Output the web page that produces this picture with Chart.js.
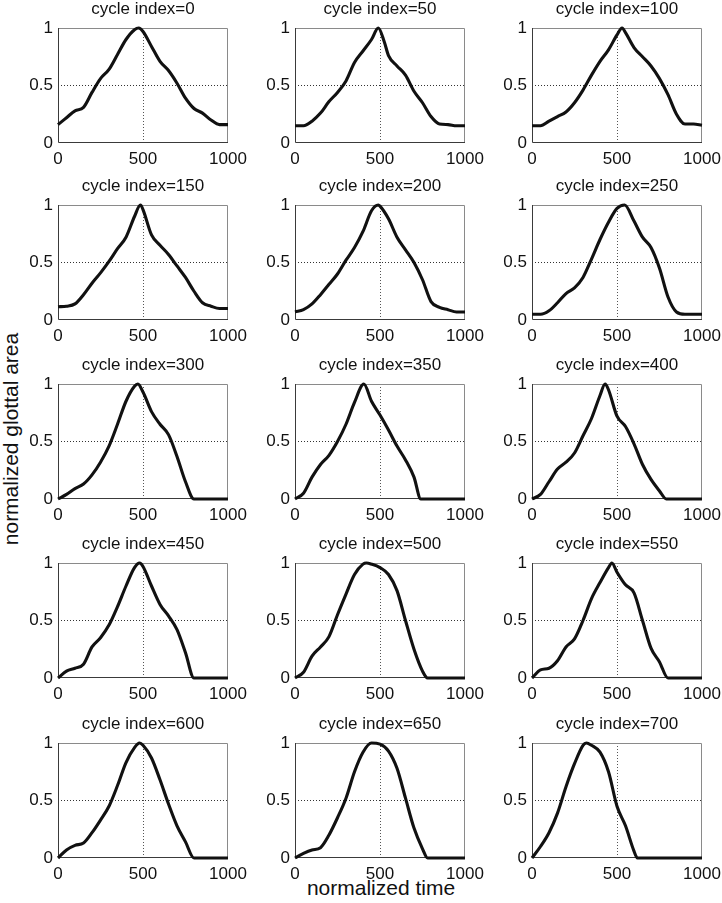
<!DOCTYPE html>
<html>
<head>
<meta charset="utf-8">
<script src="https://cdn.jsdelivr.net/npm/chart.js@4.4.1/dist/chart.umd.min.js"></script>
<style>
  body { margin: 0; background: #fff; }
  #fig { position: relative; width: 722px; height: 903px; overflow: hidden;
         font-family: "Liberation Sans", Arial, Helvetica, sans-serif; }
  #fig canvas { position: absolute; }
  .lab { position: absolute; font-size: 21px; color: #111; white-space: nowrap;
         transform: translate(-50%, -50%); }
  #ylab { left: 11px; top: 439px; transform: translate(-50%, -50%) rotate(-90deg); }
  #xlab { left: 381px; top: 888px; }
</style>
</head>
<body>
<div id="fig">
  <div class="lab" id="ylab">normalized glottal area</div>
  <div class="lab" id="xlab">normalized time</div>
</div>
<script>
// panel titles and axis ticks
const cycleIndex = [0, 50, 100, 150, 200, 250, 300, 350, 400, 450, 500, 550, 600, 650, 700];
const timeTicks = [0, 500, 1000];
const areaTicks = [0, 0.5, 1];

// [normalized time, normalized glottal area]
const cycle0 = [[0,0.16],[50,0.22],[100,0.28],[150,0.31],[200,0.44],[250,0.56],[300,0.64],[350,0.77],[400,0.9],[450,0.985],[475,1],[500,0.97],[550,0.84],[600,0.71],[650,0.63],[700,0.52],[750,0.39],[800,0.3],[850,0.26],[900,0.2],[950,0.16],[1000,0.16]];
const cycle50 = [[0,0.15],[50,0.15],[100,0.19],[150,0.26],[200,0.36],[250,0.44],[300,0.54],[350,0.7],[400,0.8],[450,0.9],[490,1],[525,0.88],[550,0.76],[600,0.67],[650,0.59],[700,0.45],[750,0.35],[800,0.23],[850,0.165],[900,0.16],[950,0.15],[1000,0.15]];
const cycle100 = [[0,0.15],[50,0.15],[100,0.19],[150,0.23],[200,0.27],[250,0.35],[300,0.46],[350,0.59],[400,0.71],[450,0.81],[500,0.94],[530,1],[550,0.96],[600,0.83],[650,0.75],[700,0.67],[750,0.56],[800,0.42],[850,0.25],[900,0.165],[950,0.165],[1000,0.155]];
const cycle150 = [[0,0.115],[50,0.12],[100,0.14],[150,0.22],[200,0.32],[250,0.41],[300,0.51],[350,0.62],[400,0.72],[450,0.9],[485,1],[500,0.96],[550,0.74],[600,0.65],[650,0.57],[700,0.47],[750,0.37],[800,0.25],[850,0.15],[900,0.12],[950,0.1],[1000,0.1]];
const cycle200 = [[0,0.07],[50,0.09],[100,0.14],[150,0.22],[200,0.31],[250,0.4],[300,0.52],[350,0.63],[400,0.77],[450,0.95],[490,1],[500,0.99],[550,0.88],[600,0.72],[650,0.61],[700,0.5],[750,0.35],[800,0.16],[850,0.11],[900,0.09],[950,0.07],[1000,0.07]];
const cycle250 = [[0,0.05],[50,0.05],[100,0.08],[150,0.15],[200,0.23],[250,0.28],[300,0.37],[350,0.53],[400,0.7],[450,0.85],[500,0.97],[545,1],[600,0.86],[650,0.72],[700,0.63],[750,0.45],[800,0.2],[850,0.07],[900,0.05],[950,0.05],[1000,0.05]];
const cycle300 = [[0,0],[50,0.04],[100,0.09],[150,0.13],[200,0.21],[250,0.32],[300,0.46],[350,0.65],[400,0.85],[450,0.98],[470,1],[500,0.93],[550,0.76],[600,0.65],[650,0.56],[700,0.37],[750,0.15],[800,0],[850,0],[900,0],[950,0],[1000,0]];
const cycle350 = [[0,0],[50,0.05],[100,0.19],[150,0.3],[200,0.38],[250,0.5],[300,0.65],[350,0.84],[405,1],[450,0.85],[500,0.73],[550,0.6],[600,0.46],[650,0.34],[700,0.19],[740,0],[800,0],[850,0],[900,0],[950,0],[1000,0]];
const cycle400 = [[0,0],[50,0.04],[100,0.15],[150,0.26],[200,0.32],[250,0.4],[300,0.55],[350,0.7],[400,0.9],[430,1],[450,0.95],[500,0.72],[550,0.63],[600,0.48],[650,0.3],[700,0.17],[750,0.07],[790,0],[850,0],[900,0],[950,0],[1000,0]];
const cycle450 = [[0,0],[50,0.06],[100,0.085],[150,0.12],[200,0.27],[250,0.35],[300,0.46],[350,0.62],[400,0.8],[450,0.96],[480,1],[500,0.97],[550,0.8],[600,0.64],[650,0.54],[700,0.42],[750,0.22],[800,0],[850,0],[900,0],[950,0],[1000,0]];
const cycle500 = [[0,0],[50,0.05],[100,0.19],[150,0.27],[200,0.36],[250,0.55],[300,0.73],[350,0.9],[400,0.99],[420,1],[450,0.99],[500,0.96],[550,0.9],[600,0.76],[650,0.5],[700,0.25],[750,0.06],[780,0],[850,0],[900,0],[950,0],[1000,0]];
const cycle550 = [[0,0],[50,0.07],[100,0.085],[150,0.15],[200,0.27],[250,0.34],[300,0.5],[350,0.69],[400,0.83],[450,0.96],[470,1],[500,0.92],[550,0.81],[600,0.74],[650,0.5],[700,0.26],[750,0.14],[800,0],[850,0],[900,0],[950,0],[1000,0]];
const cycle600 = [[0,0],[50,0.07],[100,0.11],[150,0.13],[200,0.22],[250,0.33],[300,0.45],[350,0.63],[400,0.83],[450,0.96],[480,1],[500,0.98],[550,0.87],[600,0.68],[650,0.47],[700,0.28],[750,0.14],[800,0],[850,0],[900,0],[950,0],[1000,0]];
const cycle650 = [[0,0],[50,0.04],[100,0.07],[150,0.09],[200,0.2],[250,0.35],[300,0.52],[350,0.75],[400,0.92],[450,1],[500,0.99],[550,0.93],[600,0.78],[650,0.52],[700,0.26],[750,0.08],[780,0],[850,0],[900,0],[950,0],[1000,0]];
const cycle700 = [[0,0],[50,0.1],[100,0.22],[150,0.39],[200,0.62],[250,0.82],[300,0.98],[320,1],[350,0.98],[400,0.92],[450,0.75],[500,0.45],[550,0.28],[600,0.06],[620,0],[700,0],[800,0],[900,0],[1000,0]];

const glottalCurves = [cycle0, cycle50, cycle100, cycle150, cycle200, cycle250, cycle300,
  cycle350, cycle400, cycle450, cycle500, cycle550, cycle600, cycle650, cycle700];

// layout (page pixels)
const colLeft = [58, 295, 532];
const rowTop = [28, 205, 384, 563, 743];
const plotW = 170, plotH = 115;
const padL = 50, padT = 30, padR = 25, padB = 30;
const fontFamily = '"Liberation Sans", Arial, Helvetica, sans-serif';

// axes box drawn under the curve
const framePlugin = {
  id: 'frame',
  beforeDatasetsDraw(chart) {
    const { ctx, chartArea: a } = chart;
    ctx.save();
    ctx.lineWidth = 1;
    ctx.strokeStyle = '#8a8a8a';
    ctx.beginPath();
    ctx.moveTo(a.left, a.top + 0.5);
    ctx.lineTo(a.right - 0.5, a.top + 0.5);
    ctx.lineTo(a.right - 0.5, a.bottom);
    ctx.stroke();
    ctx.strokeStyle = '#3a3a3a';
    ctx.beginPath();
    ctx.moveTo(a.left + 0.5, a.top);
    ctx.lineTo(a.left + 0.5, a.bottom - 0.5);
    ctx.lineTo(a.right, a.bottom - 0.5);
    ctx.stroke();
    ctx.restore();
  }
};

const titlePlugin = {
  id: 'panelTitle',
  afterDraw(chart, args, opts) {
    const { ctx, chartArea: a } = chart;
    ctx.save();
    ctx.font = '17px ' + fontFamily;
    ctx.fillStyle = '#111';
    ctx.textAlign = 'center';
    ctx.textBaseline = 'middle';
    ctx.fillText(opts.text, (a.left + a.right) / 2, a.top - 19);
    ctx.restore();
  }
};

const fig = document.getElementById('fig');

glottalCurves.forEach(function (curve, i) {
  const row = Math.floor(i / 3), col = i % 3;
  const canvas = document.createElement('canvas');
  canvas.width = padL + plotW + padR;
  canvas.height = padT + plotH + padB;
  canvas.style.left = (colLeft[col] - padL) + 'px';
  canvas.style.top = (rowTop[row] - padT) + 'px';
  fig.appendChild(canvas);

  new Chart(canvas, {
    type: 'line',
    data: {
      datasets: [{
        data: curve.map(p => ({ x: p[0], y: p[1] })),
        borderColor: '#111',
        borderWidth: 3.1,
        pointRadius: 0,
        cubicInterpolationMode: 'monotone',
        clip: 8
      }]
    },
    options: {
      responsive: false,
      animation: false,
      devicePixelRatio: 1,
      layout: { padding: { left: 0, top: padT, right: padR, bottom: 0 } },
      plugins: {
        legend: { display: false },
        tooltip: { enabled: false },
        panelTitle: { text: 'cycle index=' + cycleIndex[i] }
      },
      scales: {
        x: {
          type: 'linear',
          min: 0, max: 1000,
          afterBuildTicks: s => { s.ticks = timeTicks.map(v => ({ value: v })); },
          afterFit: s => { s.height = padB; },
          ticks: {
            padding: 6, color: '#111', maxRotation: 0,
            font: { family: fontFamily, size: 17 },
            callback: v => String(v)
          },
          grid: {
            drawTicks: false, lineWidth: 1,
            color: c => (c.tick && c.tick.value === timeTicks[1]) ? '#555' : 'rgba(0,0,0,0)'
          },
          border: { display: false, dash: [1, 2] }
        },
        y: {
          min: 0, max: 1,
          afterBuildTicks: s => { s.ticks = areaTicks.map(v => ({ value: v })); },
          afterFit: s => { s.width = padL; },
          ticks: {
            padding: 5, color: '#111',
            font: { family: fontFamily, size: 17 },
            callback: v => String(v)
          },
          grid: {
            drawTicks: false, lineWidth: 1,
            color: c => (c.tick && c.tick.value === areaTicks[1]) ? '#333' : 'rgba(0,0,0,0)'
          },
          border: { display: false, dash: [1, 2] }
        }
      }
    },
    plugins: [framePlugin, titlePlugin]
  });
});
</script>
</body>
</html>
